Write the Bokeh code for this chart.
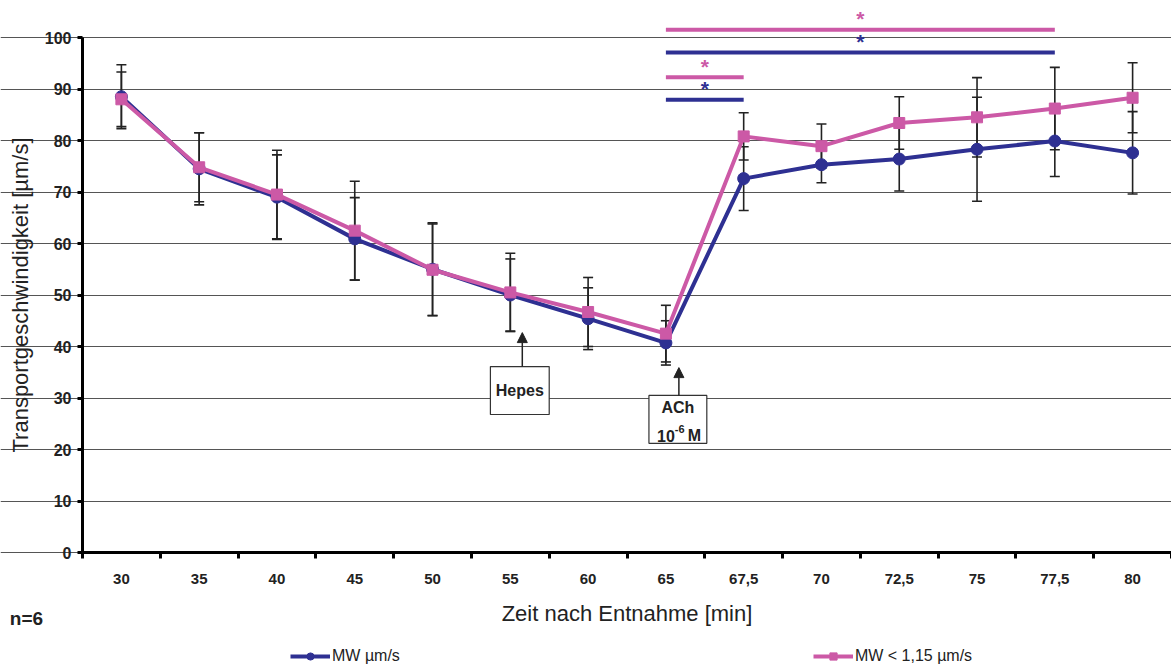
from bokeh.plotting import figure
from bokeh.models import (ColumnDataSource, Whisker, TeeHead, FixedTicker, Legend, LegendItem,
                          Arrow, NormalHead, Label, Range1d)
from bokeh.core.properties import value
from bokeh.embed import file_html
from bokeh.resources import INLINE

# ---------------- data ----------------
times = ["30", "35", "40", "45", "50", "55", "60", "65", "67,5", "70", "72,5", "75", "77,5", "80"]
mw = [88.5, 74.5, 69.0, 60.9, 55.0, 50.0, 45.4, 40.7, 72.6, 75.3, 76.4, 78.3, 79.9, 77.6]
mw_err = [6.2, 7.0, 8.2, 8.0, 9.0, 7.0, 6.0, 4.3, 6.2, 3.5, 6.2, 10.1, 6.9, 8.0]
mw_small = [88.0, 74.8, 69.5, 62.5, 54.9, 50.5, 46.7, 42.5, 80.8, 78.9, 83.4, 84.5, 86.2, 88.3]
mw_small_err = [5.3, 6.7, 8.6, 9.6, 8.9, 7.6, 6.7, 5.5, 4.6, 4.3, 5.1, 7.7, 8.0, 6.8]
y_ticks = [0, 10, 20, 30, 40, 50, 60, 70, 80, 90, 100]

# significance bars (start index, end index, y level, colour key)
sig_start = [7, 7, 7, 7]
sig_end = [12, 12, 8, 8]
sig_y = [101.5, 97.1, 92.3, 87.9]
sig_series = ["small", "mw", "small", "mw"]

BLUE = "#2E3092"
PINK = "#CC59A6"
FONT = "Liberation Sans"
TXT = "#222222"

W, H = 1171, 665
LEFT_PX, ZERO_PX, TOP100_PX = 82, 552, 37
n = len(times)
unit_x = (W - LEFT_PX) / n
unit_y = (ZERO_PX - TOP100_PX) / 100.0
x_start = -0.5 - LEFT_PX / unit_x
y_start = -(H - ZERO_PX) / unit_y
y_end = ZERO_PX / unit_y

x = list(range(n))

p = figure(width=W, height=H, x_range=Range1d(x_start, n - 0.5), y_range=Range1d(y_start, y_end),
           output_backend="svg", toolbar_location=None,
           min_border_left=0, min_border_right=0, min_border_top=0, min_border_bottom=0)
p.outline_line_color = None
p.background_fill_color = "white"
p.border_fill_color = "white"

# grid
p.xgrid.grid_line_color = None
p.ygrid.ticker = FixedTicker(ticks=y_ticks)
p.ygrid.grid_line_color = "#555555"
p.ygrid.grid_line_width = 1
p.ygrid.bounds = (-0.5, n - 0.5)

# y axis
ya = p.yaxis[0]
ya.fixed_location = -0.5
ya.ticker = FixedTicker(ticks=y_ticks)
ya.bounds = (0, 100)
ya.axis_line_width = 3
ya.axis_line_color = "black"
ya.major_tick_line_width = 3
ya.major_tick_out = 5
ya.major_tick_in = 0
ya.minor_tick_line_color = None
ya.major_label_standoff = 6
ya.major_label_text_font = FONT
ya.major_label_text_font_style = "bold"
ya.major_label_text_font_size = "16px"
ya.major_label_text_color = TXT
ya.axis_label = "Transportgeschwindigkeit [µm/s]"
ya.axis_label_text_font = FONT
ya.axis_label_text_font_style = "normal"
ya.axis_label_text_font_size = "22px"
ya.axis_label_text_color = TXT
ya.axis_label_standoff = 9

# x axis
xa = p.xaxis[0]
xa.fixed_location = 0
xa.bounds = (-0.5, n - 0.5)
xa.ticker = FixedTicker(ticks=x, minor_ticks=[i - 0.5 for i in range(n + 1)])
xa.major_label_overrides = {i: t for i, t in enumerate(times)}
xa.axis_line_width = 3
xa.axis_line_color = "black"
xa.major_tick_line_color = None
xa.major_tick_out = 0
xa.major_tick_in = 0
xa.minor_tick_line_color = "black"
xa.minor_tick_line_width = 3
xa.minor_tick_out = 6
xa.minor_tick_in = 0
xa.major_label_standoff = 15
xa.major_label_text_font = FONT
xa.major_label_text_font_style = "bold"
xa.major_label_text_font_size = "15px"
xa.major_label_text_color = TXT
xa.axis_label = "Zeit nach Entnahme [min]"
xa.axis_label_text_font = FONT
xa.axis_label_text_font_style = "normal"
xa.axis_label_text_font_size = "22px"
xa.axis_label_text_color = TXT
xa.axis_label_standoff = 14

src = ColumnDataSource(dict(
    x=x, mw=mw, mw_lo=[m - e for m, e in zip(mw, mw_err)], mw_hi=[m + e for m, e in zip(mw, mw_err)],
    ms=mw_small, ms_lo=[m - e for m, e in zip(mw_small, mw_small_err)],
    ms_hi=[m + e for m, e in zip(mw_small, mw_small_err)],
))

# annotation boxes (drawn before series so lines stay on top)
p.quad(left=[4.744], right=[5.5], bottom=[26.8], top=[36.1], fill_color="white",
       line_color="#333333", line_width=1.2)
p.quad(left=[6.782], right=[7.526], bottom=[21.2], top=[30.5], fill_color="white",
       line_color="#333333", line_width=1.2)
p.text(x=[5.122], y=[31.45], text=["Hepes"], text_font=value(FONT), text_font_style="bold",
       text_font_size="16px", text_color=TXT, text_align="center", text_baseline="middle")
p.text(x=[7.154], y=[28.2], text=["ACh"], text_font=value(FONT), text_font_style="bold",
       text_font_size="16px", text_color=TXT, text_align="center", text_baseline="middle")
p.text(x=[7.154], y=[22.7], text=["10"], text_font=value(FONT), text_font_style="bold",
       text_font_size="16px", text_color=TXT, text_align="right", text_baseline="alphabetic",
       x_offset=-3)
p.text(x=[7.154], y=[22.7], text=["-6"], text_font=value(FONT), text_font_style="bold",
       text_font_size="11px", text_color=TXT, text_align="left", text_baseline="alphabetic",
       x_offset=-3, y_offset=-7)
p.text(x=[7.154], y=[22.7], text=["M"], text_font=value(FONT), text_font_style="bold",
       text_font_size="16px", text_color=TXT, text_align="left", text_baseline="alphabetic",
       x_offset=10)

# series
bl = p.line("x", "mw", source=src, line_color=BLUE, line_width=4)
bs = p.scatter("x", "mw", source=src, marker="circle", size=12, fill_color=BLUE, line_color=BLUE)
pl = p.line("x", "ms", source=src, line_color=PINK, line_width=4)
ps = p.scatter("x", "ms", source=src, marker="square", size=11, fill_color=PINK, line_color=PINK)

# error bars
for lo, hi in (("mw_lo", "mw_hi"), ("ms_lo", "ms_hi")):
    w = Whisker(source=src, base="x", lower=lo, upper=hi, line_color=TXT, line_width=1.6,
                upper_head=TeeHead(size=10, line_color=TXT, line_width=1.6),
                lower_head=TeeHead(size=10, line_color=TXT, line_width=1.6))
    p.add_layout(w)

# significance bars + stars
for s, e, yv, ser in zip(sig_start, sig_end, sig_y, sig_series):
    col = PINK if ser == "small" else BLUE
    p.segment(x0=[s], x1=[e], y0=[yv], y1=[yv], line_color=col, line_width=4)
    p.text(x=[(s + e) / 2], y=[yv], text=["*"], text_font=value(FONT), text_font_size="21px",
           text_font_style="bold", text_color=col, text_align="center",
           text_baseline="alphabetic", y_offset=-11)

# arrows
for ax, y0, y1 in ((5.154, 36.1, 42.7), (7.167, 30.5, 35.9)):
    p.add_layout(Arrow(end=NormalHead(size=10, fill_color=TXT, line_color=TXT),
                       x_start=ax, y_start=y0, x_end=ax, y_end=y1,
                       line_color=TXT, line_width=1.5))

# n=6
p.add_layout(Label(x=-1.435, y=-12.9, text="n=6", text_font=FONT, text_font_style="bold",
                   text_font_size="19px", text_color=TXT, text_baseline="alphabetic"))

# legend
legend = Legend(items=[LegendItem(label="MW µm/s", renderers=[bl, bs]),
                       LegendItem(label="MW < 1,15 µm/s", renderers=[pl, ps])],
                orientation="horizontal", location=(290, 0),
                glyph_width=40, glyph_height=18, label_standoff=2, spacing=413,
                padding=0, margin=0, border_line_color=None, background_fill_alpha=0,
                label_text_font=FONT, label_text_font_size="16px", label_text_color=TXT)
p.add_layout(legend, "center")

open("out.html", "w").write(file_html(p, INLINE))
